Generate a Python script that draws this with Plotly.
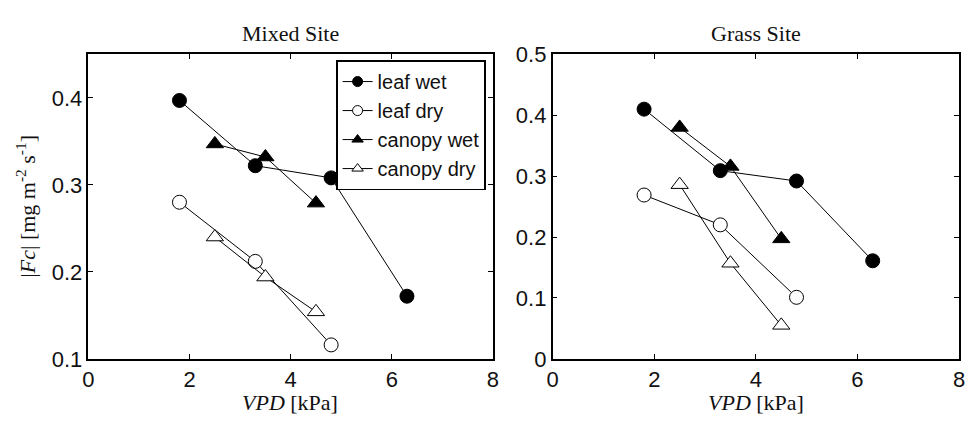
import plotly.graph_objects as go

# VPD classes [kPa]
vpd_leaf = [1.8, 3.3, 4.8, 6.3]
vpd_leaf_dry = [1.8, 3.3, 4.8]
vpd_canopy = [2.5, 3.5, 4.5]

# |Fc| [mg m-2 s-1], Mixed Site
mixed_leaf_wet = [0.397, 0.322, 0.308, 0.172]
mixed_leaf_dry = [0.280, 0.212, 0.116]
mixed_canopy_wet = [0.347, 0.332, 0.279]
mixed_canopy_dry = [0.240, 0.194, 0.154]

# |Fc| [mg m-2 s-1], Grass Site
grass_leaf_wet = [0.410, 0.309, 0.292, 0.161]
grass_leaf_dry = [0.269, 0.220, 0.101]
grass_canopy_wet = [0.380, 0.316, 0.197]
grass_canopy_dry = [0.286, 0.157, 0.055]

series_names = ["leaf wet", "leaf dry", "canopy wet", "canopy dry"]
x_ticks = [0, 2, 4, 6, 8]
mixed_y_ticks = [0.1, 0.2, 0.3, 0.4]
grass_y_ticks = [0, 0.1, 0.2, 0.3, 0.4, 0.5]

W, H = 970, 425
SANS = "Liberation Sans, Arial, sans-serif"
SERIF = "Liberation Serif, Times New Roman, serif"

styles = [
    dict(symbol="circle", color="black"),
    dict(symbol="circle", color="white"),
    dict(symbol="triangle-up", color="black"),
    dict(symbol="triangle-up", color="white"),
]

fig = go.Figure()

panels = [
    ("x", "y", [vpd_leaf, vpd_leaf_dry, vpd_canopy, vpd_canopy],
     [mixed_leaf_wet, mixed_leaf_dry, mixed_canopy_wet, mixed_canopy_dry]),
    ("x2", "y2", [vpd_leaf, vpd_leaf_dry, vpd_canopy, vpd_canopy],
     [grass_leaf_wet, grass_leaf_dry, grass_canopy_wet, grass_canopy_dry]),
]

for xa, ya, xs_list, ys_list in panels:
    for name, xs, ys, st in zip(series_names, xs_list, ys_list, styles):
        fig.add_trace(go.Scatter(
            x=xs, y=ys, xaxis=xa, yaxis=ya, mode="lines+markers", name=name,
            showlegend=False,
            line=dict(color="black", width=1),
            marker=dict(symbol=st["symbol"], size=14 if st["symbol"] == "circle" else 15,
                        color=st["color"], line=dict(color="black", width=1)),
        ))

# legend entries with smaller symbols
for name, st in zip(series_names, styles):
    fig.add_trace(go.Scatter(
        x=[None], y=[None], xaxis="x", yaxis="y", mode="lines+markers", name=name,
        line=dict(color="black", width=1),
        marker=dict(symbol=st["symbol"], size=10, color=st["color"],
                    line=dict(color="black", width=1)),
    ))

def px_x(p):
    return p / W

def px_y(p):
    return 1 - p / H

axis_common = dict(
    showgrid=False, zeroline=False, showline=True, linecolor="black", linewidth=1.6,
    mirror="ticks", ticks="inside", ticklen=5, tickwidth=1, tickcolor="black",
    tickfont=dict(family=SANS, size=22, color="#111111"),
)

y_dom = [px_y(368.5), px_y(45)]
fig.update_layout(
    width=W, height=H, margin=dict(l=0, r=0, t=0, b=0),
    paper_bgcolor="white", plot_bgcolor="white",
    xaxis=dict(domain=[px_x(83.5), px_x(493)], range=[0, 8], tickvals=x_ticks,
               anchor="y", **axis_common),
    yaxis=dict(domain=y_dom, range=[0.1, 0.45], tickvals=mixed_y_ticks,
               anchor="x", **axis_common),
    xaxis2=dict(domain=[px_x(553.5), px_x(965)], range=[0, 8], tickvals=x_ticks,
                anchor="y2", **axis_common),
    yaxis2=dict(domain=y_dom, range=[0, 0.5], tickvals=grass_y_ticks,
                anchor="x2", **axis_common),
    legend=dict(x=px_x(486), y=px_y(51.5), xanchor="right", yanchor="top",
                bgcolor="white", bordercolor="black", borderwidth=1.6,
                font=dict(family=SANS, size=20, color="#111111"),
                tracegroupgap=0, itemwidth=30),
    showlegend=True,
)

title_font = dict(family=SERIF, size=22, color="#111111")
annotations = [
    dict(text="Mixed Site", x=px_x(288), y=px_y(23), xref="paper", yref="paper",
         showarrow=False, font=title_font, xanchor="center", yanchor="middle"),
    dict(text="Grass Site", x=px_x(759), y=px_y(23), xref="paper", yref="paper",
         showarrow=False, font=title_font, xanchor="center", yanchor="middle"),
    dict(text="<i>VPD</i> [kPa]", x=px_x(288), y=px_y(415), xref="paper", yref="paper",
         showarrow=False, font=title_font, xanchor="center", yanchor="middle"),
    dict(text="<i>VPD</i> [kPa]", x=px_x(759), y=px_y(415), xref="paper", yref="paper",
         showarrow=False, font=title_font, xanchor="center", yanchor="middle"),
    dict(text="|<i>Fc</i>| [mg m<sup>-2</sup> s<sup>-1</sup>]", x=px_x(20), y=px_y(206),
         xref="paper", yref="paper", showarrow=False, font=title_font, textangle=-90,
         xanchor="center", yanchor="middle"),
]
fig.update_layout(annotations=annotations)

fig.write_html("out.html")
